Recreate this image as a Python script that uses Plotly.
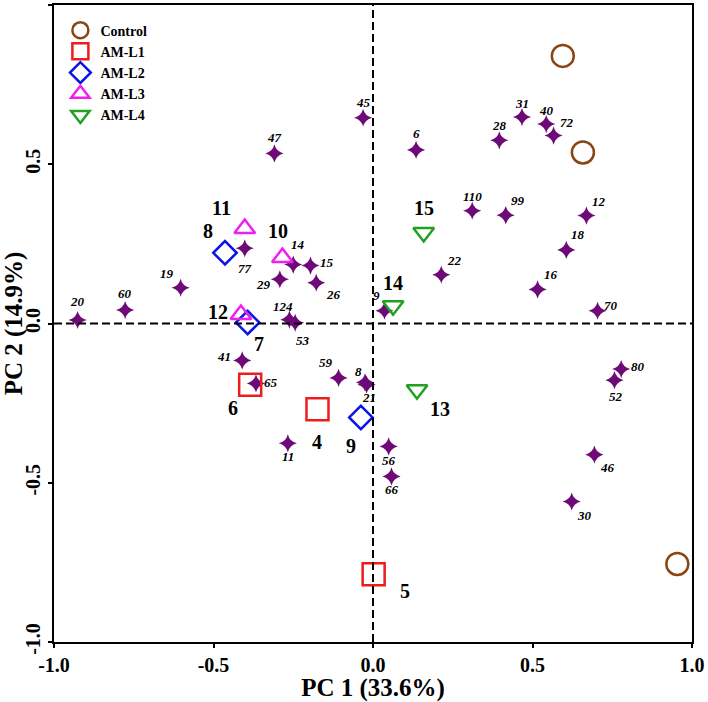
import plotly.graph_objects as go

# Variable loadings (purple stars)
var_ids = ["45", "6", "28", "31", "40", "72", "110", "99", "12", "18", "22", "16",
           "14", "15", "26", "29", "77", "19", "60", "20", "124", "53", "41", "65",
           "59", "8", "21", "11", "56", "66", "9", "70", "80", "52", "46", "30", "47"]
var_pc1 = [-0.031, 0.135, 0.396, 0.467, 0.543, 0.566, 0.311, 0.416, 0.669, 0.606, 0.214, 0.516,
           -0.250, -0.196, -0.178, -0.292, -0.402, -0.603, -0.777, -0.926, -0.262, -0.244, -0.410, -0.367,
           -0.108, -0.025, -0.020, -0.267, 0.049, 0.058, 0.036, 0.704, 0.778, 0.757, 0.694, 0.623, -0.309]
var_pc2 = [0.646, 0.545, 0.575, 0.648, 0.626, 0.590, 0.354, 0.340, 0.339, 0.231, 0.153, 0.107,
           0.185, 0.182, 0.128, 0.139, 0.236, 0.112, 0.042, 0.011, 0.012, 0.002, -0.116, -0.188,
           -0.171, -0.185, -0.192, -0.376, -0.386, -0.480, 0.040, 0.040, -0.143, -0.178, -0.412, -0.559, 0.534]

# Treatment scores
groups = ["Control", "AM-L1", "AM-L2", "AM-L3", "AM-L4"]
group_ids = [[], ["6", "4", "5"], ["8", "7", "9"], ["11", "10", "12"], ["15", "14", "13"]]
group_pc1 = [[0.595, 0.658, 0.954], [-0.385, -0.174, 0.002], [-0.464, -0.393, -0.038],
             [-0.402, -0.284, -0.414], [0.159, 0.063, 0.138]]
group_pc2 = [[0.840, 0.537, -0.755], [-0.192, -0.269, -0.787], [0.222, 0.003, -0.295],
             [0.298, 0.207, 0.028], [0.286, 0.056, -0.208]]

# styles
group_symbols = ["circle-open", "square-open", "diamond-open", "triangle-up-open", "triangle-down-open"]
group_colors = ["#8B4513", "#EE1C1C", "#0A14E6", "#F01EF0", "#22A022"]
group_sizes = [22, 22, 18, 18, 18]

# label offsets in pixels (dx, dy; dy positive = up)
var_offsets = {"45": (0, 15), "6": (0, 16), "28": (0, 15), "31": (0, 14), "40": (0, 14),
               "72": (13, 13), "110": (0, 14), "99": (12, 15), "12": (13, 14), "18": (12, 15),
               "22": (13, 14), "16": (13, 15), "14": (5, 20), "15": (17, 3), "26": (17, -12),
               "29": (-16, -5), "77": (0, -20), "19": (-14, 14), "60": (0, 17), "20": (0, 19),
               "124": (-6, 13), "53": (8, -18), "41": (-18, 4), "65": (15, 1), "59": (-13, 15),
               "8": (-7, 11), "21": (2, -13), "11": (0, -13), "56": (0, -14), "66": (0, -13),
               "9": (-8, 15), "70": (13, 5), "80": (17, 3), "52": (2, -16), "46": (13, -13),
               "30": (13, -14), "47": (0, 16)}
group_offsets = {"6": (-17, -23), "4": (0, -33), "5": (31, -17), "8": (-17, 22), "7": (11, -21),
                 "9": (-10, -29), "11": (-23, 21), "10": (-4, 27), "12": (-23, 3),
                 "15": (0, 24), "14": (0, 23), "13": (23, -19)}

FONT = "Liberation Serif"

fig = go.Figure()

fig.add_trace(go.Scatter(
    x=var_pc1, y=var_pc2, mode="markers", showlegend=False,
    marker=dict(symbol="star-diamond", size=13, color="#6E0A78"),
    hoverinfo="skip"
))

for i, g in enumerate(groups):
    fig.add_trace(go.Scatter(
        x=group_pc1[i], y=group_pc2[i], mode="markers", name=g,
        marker=dict(symbol=group_symbols[i], size=group_sizes[i],
                    color=group_colors[i], line=dict(width=2.5, color=group_colors[i]))
    ))

annotations = []
for vid, x, y in zip(var_ids, var_pc1, var_pc2):
    dx, dy = var_offsets[vid]
    annotations.append(dict(x=x, y=y, text=f"<b><i>{vid}</i></b>", showarrow=False,
                            xshift=dx, yshift=dy, font=dict(family=FONT, size=13, color="black")))
for i in range(len(groups)):
    for gid, x, y in zip(group_ids[i], group_pc1[i], group_pc2[i]):
        dx, dy = group_offsets[gid]
        annotations.append(dict(x=x, y=y, text=f"<b>{gid}</b>", showarrow=False,
                                xshift=dx, yshift=dy, font=dict(family=FONT, size=20, color="black")))

shapes = [
    dict(type="line", xref="x", yref="paper", x0=0, x1=0, y0=0, y1=1,
         line=dict(color="black", width=2, dash="8px,4px")),
    dict(type="line", xref="paper", yref="y", x0=0, x1=1, y0=0, y1=0,
         line=dict(color="black", width=2, dash="8px,4px")),
]

axis_common = dict(range=[-1.0, 1.0], tickvals=[-1.0, -0.5, 0.0, 0.5, 1.0],
                   ticktext=["-1.0", "-0.5", "0.0", "0.5", "1.0"],
                   showgrid=False, zeroline=False, showline=True, linecolor="black",
                   linewidth=2, mirror=True, ticks="outside", ticklen=4, tickwidth=2,
                   tickcolor="black", automargin=False,
                   tickfont=dict(family=FONT, size=20, color="black", weight="bold"))

fig.update_layout(
    width=708, height=702,
    margin=dict(l=54, r=16, t=5, b=60),
    plot_bgcolor="white", paper_bgcolor="white",
    font=dict(family=FONT, color="black"),
    xaxis=dict(**axis_common,
               title=dict(text="<b>PC 1 (33.6%)</b>", font=dict(family=FONT, size=25), standoff=0)),
    yaxis=dict(**axis_common, tickangle=-90,
               title=dict(text="<b>PC 2 (14.9%)</b>", font=dict(family=FONT, size=25), standoff=0)),
    legend=dict(x=0.01, y=0.985, xanchor="left", yanchor="top", bgcolor="rgba(0,0,0,0)",
                font=dict(family=FONT, size=14, color="black", weight="bold"),
                tracegroupgap=0, itemwidth=30),
    annotations=annotations,
    shapes=shapes,
)

# drop the browser's default 8px page margin so the figure fills the window
fig.write_html("out.html", config={"displayModeBar": False},
               post_script="document.body.style.margin='0';")
